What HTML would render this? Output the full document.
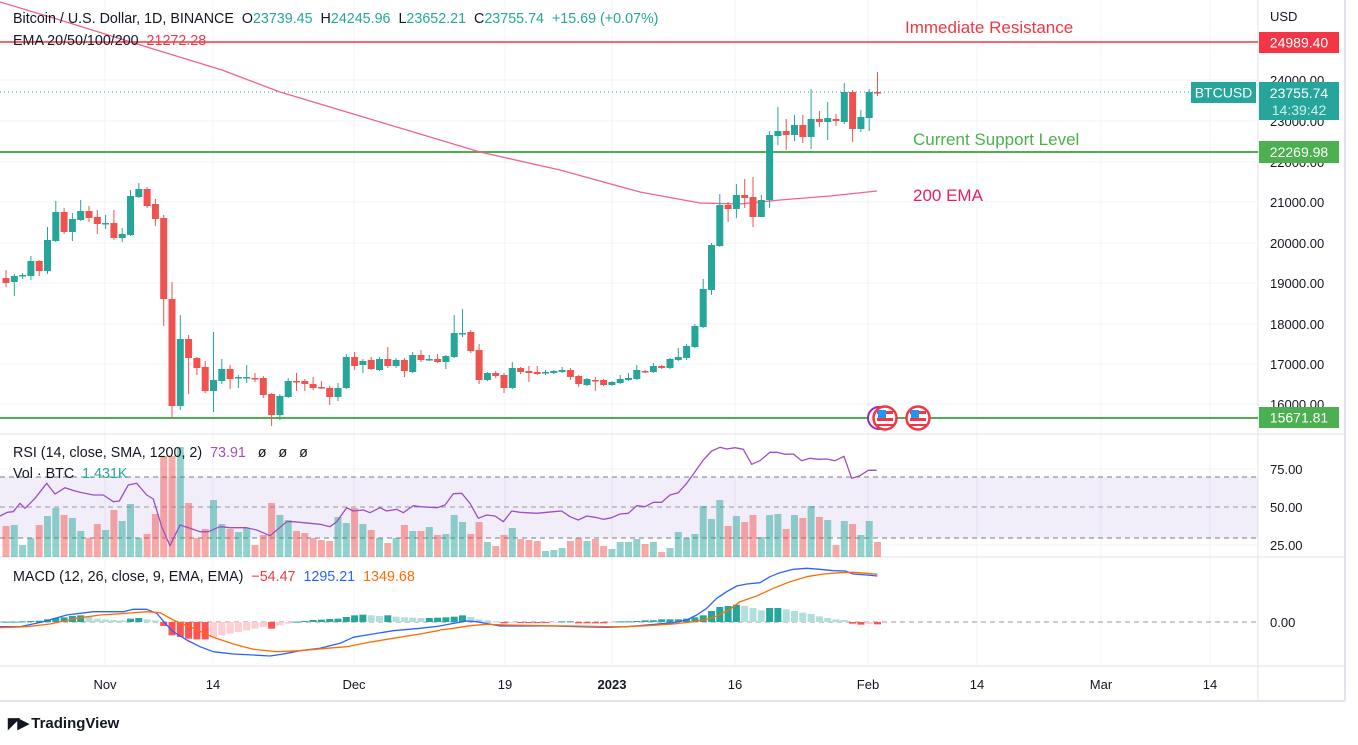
<!DOCTYPE html>
<html><head><meta charset="utf-8"><style>
html,body{margin:0;padding:0;background:#fff;}
body{width:1358px;height:745px;overflow:hidden;position:relative;font-family:"Liberation Sans",sans-serif;}
.t{position:absolute;white-space:nowrap;font-size:13px;color:#131722;}
</style></head><body>
<svg id="s" width="1358" height="745" style="position:absolute;left:0;top:0" xmlns="http://www.w3.org/2000/svg"></svg>
<div class="t" style="left:13px;top:11px;font-size:14.3px">Bitcoin / U.S. Dollar, 1D, BINANCE&nbsp; O<span style="color:#26a69a">23739.45</span>&nbsp; H<span style="color:#26a69a">24245.96</span>&nbsp; L<span style="color:#26a69a">23652.21</span>&nbsp; C<span style="color:#26a69a">23755.74</span>&nbsp; <span style="color:#26a69a">+15.69 (+0.07%)</span></div>
<div class="t" style="left:13px;top:33px;font-size:14.3px">EMA 20/50/100/200&nbsp; <span style="color:#f23645">21272.28</span></div>
<div class="t" style="left:905px;top:18px;font-size:17px;color:#f23645">Immediate Resistance</div>
<div class="t" style="left:913px;top:130px;font-size:17px;color:#4caf50">Current Support Level</div>
<div class="t" style="left:913px;top:186px;font-size:17px;color:#e91e63">200 EMA</div>
<div class="t" style="left:13px;top:445px;font-size:14.3px">RSI (14, close, SMA, 1200, 2)&nbsp; <span style="color:#9c4fc4">73.91</span>&nbsp;&nbsp; ø&nbsp;&nbsp; ø&nbsp;&nbsp; ø</div>
<div class="t" style="left:13px;top:466px;font-size:14.3px">Vol · BTC&nbsp; <span style="color:#26a69a">1.431K</span></div>
<div class="t" style="left:13px;top:569px;font-size:14.3px">MACD (12, 26, close, 9, EMA, EMA)&nbsp; <span style="color:#f23645">−54.47</span>&nbsp; <span style="color:#2962ff">1295.21</span>&nbsp; <span style="color:#ff6d00">1349.68</span></div>
<div class="t" style="left:1270px;top:9px;font-size:13px">USD</div>
<div class="t" style="left:8px;top:714px;font-size:15px;font-weight:bold;color:#131722"><span style="letter-spacing:-2px">◤▶</span> TradingView</div>
<script>
var s=document.getElementById('s'),h='';
function L(x1,y1,x2,y2,c,w,d){h+='<line x1="'+x1+'" y1="'+y1+'" x2="'+x2+'" y2="'+y2+'" stroke="'+c+'" stroke-width="'+(w||1)+'"'+(d?' stroke-dasharray="'+d+'"':'')+'/>';}
function R(x,y,w,hh,c,o){h+='<rect x="'+x+'" y="'+y+'" width="'+w+'" height="'+hh+'" fill="'+c+'"'+(o?' opacity="'+o+'"':'')+'/>';}
function T(x,y,t,c,sz,anc){h+='<text x="'+x+'" y="'+y+'" fill="'+(c||'#131722')+'" font-size="'+(sz||13)+'" font-family="Liberation Sans,sans-serif"'+(anc?' text-anchor="'+anc+'"':'')+'>'+t+'</text>';}
function P(pts,x0,y0,c,w){var a=[];for(var i=0;i<pts.length;i+=2)a.push((x0+pts[i]/3).toFixed(1)+','+(y0+pts[i+1]/3).toFixed(1));h+='<polyline points="'+a.join(' ')+'" fill="none" stroke="'+c+'" stroke-width="'+(w||1.3)+'" stroke-linejoin="round"/>';}
var vx=[105,213,354,505,612,735,868,977,1101,1210];
vx.forEach(function(x){L(x,0,x,666,'#f0f3fa');});
[80,121,162,202,243,283,324,364,404].forEach(function(y){L(0,y,1258,y,'#f0f3fa');});
L(0,469,1258,469,'#f0f3fa');L(0,545,1258,545,'#f0f3fa');
R(0,477,1258,61,'#7e57c2',0.1);
L(0,477,1258,477,'#787b86',1,'5,4');L(0,507,1258,507,'#9598a1',1,'5,4');L(0,538,1258,538,'#787b86',1,'5,4');
L(0,434,1345,434,'#e0e3eb');L(0,557,1345,557,'#e0e3eb');L(0,666,1345,666,'#e0e3eb');L(0,701,1345,701,'#e0e3eb',2);
L(1258,0,1258,701,'#e0e3eb');L(1345,0,1345,701,'#e0e3eb',2);
L(0,622,1258,622,'#9598a1',1,'5,4');
var C=[[278,283,270,287],[282,276,274,296],[276,275,273,279],[276,261,256,280],[261,271,260,276],[271,240,227,274],[241,212,201,242],[212,232,208,234],[232,219,213,241],[220,211,200,221],
[211,218,206,222],[217,224,210,234],[223,223,215,229],[223,238,210,240],[238,234,228,242],[235,196,190,236],[197,189,183,198],[189,206,187,208],[204,219,199,226],[218,299,215,326],
[299,406,282,418],[406,339,315,410],[339,358,335,394],[358,368,357,375],[367,391,361,393],[391,380,332,412],[381,369,359,384],[369,379,365,389],[377,377,375,388],[377,377,365,383],
[378,379,373,382],[378,395,376,398],[394,415,393,426],[415,396,394,420],[397,381,378,398],[381,382,373,391],[381,384,379,391],[384,388,377,390],[387,388,381,389],[388,397,386,405],
[397,388,383,401],[388,357,354,389],[357,366,352,370],[365,361,359,373],[360,369,357,370],[370,359,357,371],[359,366,347,368],[366,360,358,368],[360,371,358,377],[372,355,352,373],
[355,360,350,362],[359,359,355,361],[359,362,354,363],[362,356,355,369],[357,333,315,358],[333,333,309,337],[332,351,330,353],[350,380,344,384],[380,373,372,381],[373,376,371,378],
[375,388,373,393],[388,368,362,389],[368,372,367,374],[371,373,366,382],[372,374,366,375],[373,372,370,375],[373,371,370,374],[372,370,367,373],[370,377,368,380],[376,384,375,387],
[385,379,378,386],[380,381,377,391],[380,385,379,386],[385,382,381,386],[383,379,375,384],[380,378,373,381],[379,370,365,380],[371,372,370,373],[372,366,363,373],[366,368,365,369],
[368,359,358,369],[360,357,348,361],[358,346,344,360],[347,326,324,348],[327,289,279,328],[290,245,243,295],[246,205,194,247],[205,209,202,222],[209,195,184,218],[195,198,179,208],
[197,217,177,227],[217,200,195,217],[200,135,131,208],[136,131,107,145],[131,135,119,150],[135,125,115,141],[125,137,115,143],[137,119,89,149],[119,122,111,127],[122,118,102,140],
[119,121,114,126],[122,92,83,124],[92,129,90,142],[129,117,110,132],[118,92,89,131],[92,93,72,96]];
var V=[526,525,545,538,525,516,508,515,518,531,538,524,530,510,521,504,538,534,514,456,456,447,503,538,529,500,524,529,532,528,545,535,503,515,520,531,533,538,540,541,517,523,508,524,530,538,543,538,525,531,531,527,535,
534,515,522,534,522,542,546,535,528,539,540,541,551,550,548,541,538,541,539,546,549,542,542,539,544,542,552,548,532,538,534,506,519,500,526,516,522,515,537,515,514,529,515,518,506,517,520,545,521,524,535,521,542];
var M=[1,1,2,3,4,8,12,14,18,20,18,10,8,6,5,10,12,8,5,-12,-40,-45,-50,-52,-52,-45,-40,-35,-30,-25,-20,-15,-20,-10,-5,1,3,6,7,9,10,15,20,22,20,18,20,16,14,13,12,12,13,14,16,20,15,8,5,2,-4,-3,-3,-3,-3,-3,-2,2,2,-4,-4,-4,-4,-2,2,2,3,5,5,8,8,8,10,14,20,33,45,48,52,48,42,35,42,42,38,33,28,24,17,12,8,6,-5,-8,-6,-7];
function X(i){return 6+i*8.3;}
for(var i=0;i<C.length;i++){var up=C[i][1]<=C[i][0];var v=V[i]||540;R(X(i)-3.5,v,7,557-v,up?'#26a69a':'#ef5350',0.5);}
for(var i=0;i<C.length;i++){var m=M[i]/3,p=i?M[i-1]/3:0,col;
if(m>=0)col=m>=p?'#26a69a':'#b2dfdb';else col=m<=p?'#ff5252':'#ffcdd2';
if(m>=0)R(X(i)-3.5,622-m,7,Math.max(m,1),col);else R(X(i)-3.5,622,7,-m,col);}
L(0,42,1258,42,'#f23645',1.5);L(0,152,1258,152,'#4caf50',2);L(0,418,1258,418,'#4caf50',2);
L(0,92,1190,92,'#26a69a',1,'1,3');
h+='<polyline points="0,2 60,20 150,48 222,70 280,92 380,122 480,152 560,170 640,192 700,203 740,204 780,200 830,196 877,191" fill="none" stroke="#f06292" stroke-width="1.3"/>';
for(var i=0;i<C.length;i++){var c=C[i],up=c[1]<=c[0],col=up?'#26a69a':'#ef5350',x=X(i);
L(x,c[2],x,c[3],col,1);var t=Math.min(c[0],c[1]),b=Math.max(c[0],c[1]);R(x-3.5,t,7,Math.max(b-t,1.5),col);}
P([0,243,22,232,40,230,60,205,75,220,105,190,140,145,165,177,195,158,225,168,240,172,280,180,310,180,340,200,358,198,385,150,410,145,440,180,460,192,485,275,510,332,540,270,570,280,600,290,625,290,660,275,690,278,740,278,770,285,810,302,860,260,880,260,960,268,990,275,1010,260,1040,218,1060,228,1090,225,1110,233,1140,218,1160,228,1190,223,1210,233,1240,212,1260,215,1310,218,1320,215],0,435,'#9c4fc4');
P([0,215,15,210,40,176,65,175,90,205,115,250,140,240,165,243,190,260,215,228,240,232,290,235,340,230,365,228,390,245,415,255,440,243,465,247,490,253,515,248,540,237,565,235,590,212,615,215,640,202,665,202,690,180,715,173,740,145,765,110,790,75,815,48,840,37,860,42,885,38,910,43,935,88,960,77,990,52,1010,52,1035,58,1060,57,1085,77,1110,70,1135,73,1160,72,1185,77,1212,64,1235,130,1260,122,1285,106,1310,106],440,435,'#9c4fc4');
P([0,200,60,200,130,185,200,165,280,155,330,155,370,155,400,148,440,148,470,160,500,195,520,215,560,240,600,260,640,275,700,282,760,285,810,288,850,282,900,272,960,265,1020,250,1060,232,1100,225,1180,212,1260,205,1320,198],0,560,'#2962ff');
P([0,198,30,192,80,183,110,185,180,198,260,198,340,198,420,200,500,202,560,200,620,195,700,188,740,180,770,165,800,145,830,115,860,95,890,78,920,72,960,68,990,50,1020,38,1060,28,1100,25,1140,28,1180,32,1215,33,1240,42,1280,45,1312,48],440,560,'#2962ff');
P([0,203,80,200,150,192,230,175,300,165,380,160,440,155,480,158,520,180,580,205,640,232,700,252,760,268,830,275,900,272,980,265,1040,260,1100,248,1180,235,1260,222,1320,211],0,560,'#ff6d00');
P([0,210,40,205,90,197,140,193,200,195,300,197,400,198,500,200,560,200,620,197,700,192,760,185,800,178,830,168,870,148,900,125,950,108,1000,85,1050,65,1100,50,1150,42,1200,38,1240,37,1280,40,1312,43],440,560,'#ff6d00');
h+='<circle cx="879" cy="418" r="11" fill="#fff" stroke="#9c27b0" stroke-width="2"/>';
[885,918].forEach(function(cx){h+='<circle cx="'+cx+'" cy="418" r="11.5" fill="#fff" stroke="#f23645" stroke-width="2.5"/><rect x="'+(cx-8)+'" y="411" width="16" height="3" fill="#f23645"/><rect x="'+(cx-8)+'" y="418" width="16" height="3" fill="#f23645"/><rect x="'+(cx-8)+'" y="424" width="16" height="2" fill="#f23645"/><rect x="'+(cx-7)+'" y="410" width="8" height="8" fill="#2196f3"/>';});
[[80,'24000.00'],[121,'23000.00'],[162,'22000.00'],[202,'21000.00'],[243,'20000.00'],[283,'19000.00'],[324,'18000.00'],[364,'17000.00'],[404,'16000.00']].forEach(function(a){T(1270,a[0]+5,a[1]);});
T(1270,474,'75.00');T(1270,512,'50.00');T(1270,550,'25.00');T(1270,627,'0.00');
function B(x,y,w,hh,col,txt,sz){R(x,y,w,hh,col);T(x+w/2,y+hh/2+5,txt,'#fff',sz||14,'middle');}
B(1259,32,80,21,'#f23645','24989.40');
B(1259,141,80,22,'#4caf50','22269.98');
B(1259,407,80,21,'#4caf50','15671.81');
R(1259,82,80,38,'#26a69a');T(1299,98,'23755.74','#fff',14,'middle');T(1299,115,'14:39:42','#d0f0ec',14,'middle');
B(1191,82,65,21,'#26a69a','BTCUSD');
[[105,'Nov'],[213,'14'],[354,'Dec'],[505,'19'],[735,'16'],[868,'Feb'],[977,'14'],[1101,'Mar'],[1210,'14']].forEach(function(a){T(a[0],689,a[1],'#131722',13,'middle');});
h+='<text x="612" y="689" fill="#131722" font-size="13" font-weight="bold" text-anchor="middle" font-family="Liberation Sans,sans-serif">2023</text>';
s.innerHTML=h;
</script>
</body></html>
